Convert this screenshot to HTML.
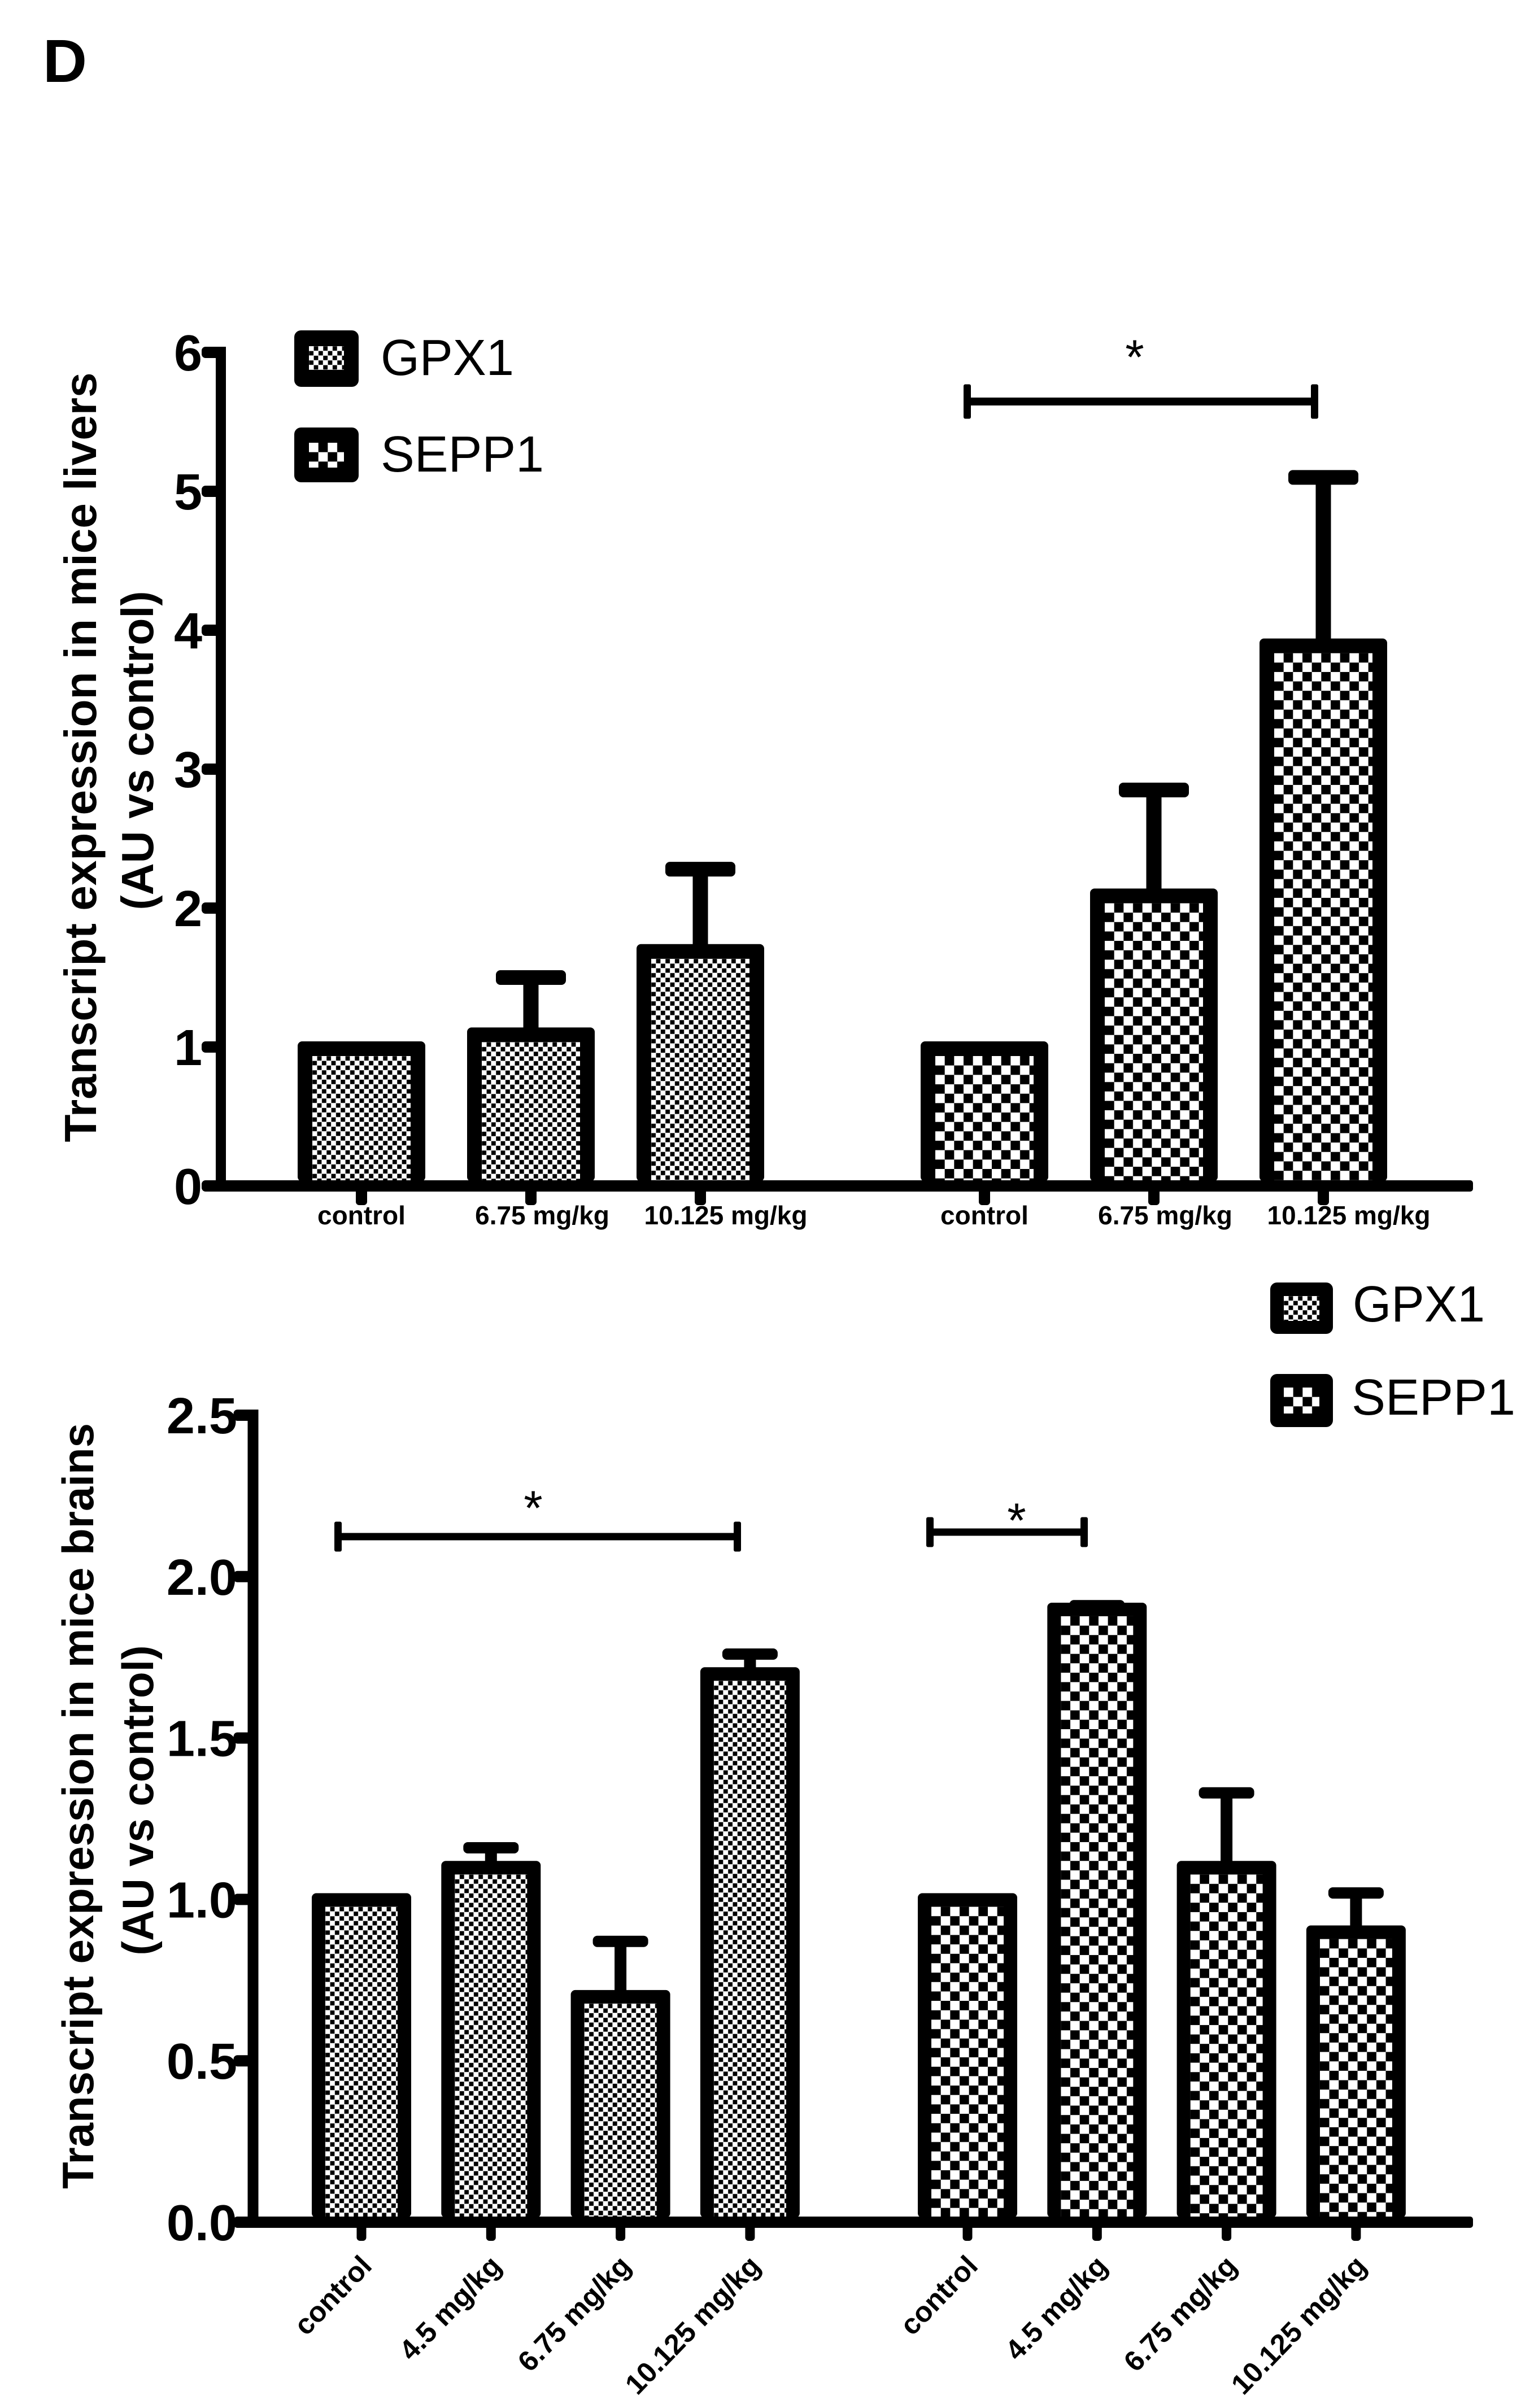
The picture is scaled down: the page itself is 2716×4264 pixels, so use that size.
<!DOCTYPE html>
<html lang="en">
<head>
<meta charset="utf-8">
<title>Transcript expression in mice livers and brains</title>
<style>
html,body{margin:0;padding:0;background:#fff}
svg{display:block}
text{font-family:"Liberation Sans",Arial,sans-serif;fill:#000}
</style>
</head>
<body>
<svg id="figure" xmlns="http://www.w3.org/2000/svg" width="2716" height="4264" viewBox="0 0 2716 4264">
  <defs>
    <pattern id="fine" patternUnits="userSpaceOnUse" width="16.67" height="16.67">
      <rect width="16.67" height="16.67" fill="#fff"/>
      <rect x="8.58" y="0.25" width="7.8" height="7.8" fill="#000"/>
      <rect x="0.25" y="8.58" width="7.8" height="7.8" fill="#000"/>
    </pattern>
    <pattern id="coarse" patternUnits="userSpaceOnUse" width="33.33" height="33.33">
      <rect width="33.33" height="33.33" fill="#fff"/>
      <rect x="16.67" width="16.66" height="16.67" fill="#000"/>
      <rect y="16.67" width="16.67" height="16.66" fill="#000"/>
    </pattern>
  </defs>
  <text x="76" y="145" font-size="108" font-weight="700">D</text>

  <g>
    <text transform="translate(170,1341) rotate(-90)" text-anchor="middle" font-size="80" font-weight="700" textLength="1363" lengthAdjust="spacingAndGlyphs">Transcript expression in mice livers</text>
    <text transform="translate(271,1329) rotate(-90)" text-anchor="middle" font-size="80" font-weight="700" textLength="565" lengthAdjust="spacingAndGlyphs">(AU vs control)</text>
  </g>
  <g>
    <text transform="translate(165,3198) rotate(-90)" text-anchor="middle" font-size="78" font-weight="700" textLength="1356" lengthAdjust="spacingAndGlyphs">Transcript expression in mice brains</text>
    <text transform="translate(271,3188) rotate(-90)" text-anchor="middle" font-size="78" font-weight="700" textLength="549" lengthAdjust="spacingAndGlyphs">(AU vs control)</text>
  </g>
  <g id="liver-chart"></g>
  <g id="brain-chart"></g>
  <g id="annotations"></g>
</svg>
<script>
// ---- Liver chart data ----
const liverCategories = ['control', '6.75 mg/kg', '10.125 mg/kg'];
const liverGpx1 = [1, 1.1, 1.7];
const liverGpx1Err = [null, 1.5, 2.28];
const liverSepp1 = [1, 2.1, 3.9];
const liverSepp1Err = [null, 2.85, 5.1];
const liverTicks = [0, 1, 2, 3, 4, 5, 6];
const liverTickLabels = ['0', '1', '2', '3', '4', '5', '6'];

// ---- Brain chart data ----
const brainCategories = ['control', '4.5 mg/kg', '6.75 mg/kg', '10.125 mg/kg'];
const brainGpx1 = [1, 1.1, 0.7, 1.7];
const brainGpx1Err = [null, 1.16, 0.87, 1.76];
const brainSepp1 = [1, 1.9, 1.1, 0.9];
const brainSepp1Err = [null, 1.91, 1.33, 1.02];
const brainTicks = [0, 0.5, 1, 1.5, 2, 2.5];
const brainTickLabels = ['0.0', '0.5', '1.0', '1.5', '2.0', '2.5'];

const NS = 'http://www.w3.org/2000/svg';
function mk(parent, tag, attrs, txt) {
  const el = document.createElementNS(NS, tag);
  for (const k in attrs) el.setAttribute(k, attrs[k]);
  if (txt !== undefined) el.textContent = txt;
  parent.appendChild(el);
  return el;
}
function slug(s) { return s.replace(/[^a-z0-9]+/gi, '-').toLowerCase(); }

function drawChart(rootId, cfg) {
  const root = document.getElementById(rootId);
  const y = v => cfg.y0 - v * cfg.unit;
  const xOf = (group, i) => cfg.groupStart[group] + i * cfg.step;
  const axisTop = y(0) - cfg.axisW / 2;

  // bars and error bars
  cfg.series.forEach((s, g) => {
    s.values.forEach((v, i) => {
      const cx = xOf(g, i);
      const top = y(v) - cfg.topOff;
      const barGroup = mk(root, 'g', {});
      
      
      if (s.err[i] !== null) {
        const stem = mk(barGroup, 'rect', {x: cx - cfg.stemW / 2, y: y(s.err[i]), width: cfg.stemW, height: top - y(s.err[i]) + 4, fill: '#000'});
        
        
        const cap = mk(barGroup, 'rect', {x: cx - cfg.capW / 2, y: y(s.err[i]) - cfg.capH / 2, width: cfg.capW, height: cfg.capH, rx: 8, fill: '#000'});
        
        
      }
      const outer = mk(barGroup, 'rect', {x: cx - cfg.barW / 2, y: top, width: cfg.barW, height: axisTop - top + 2, rx: 8, fill: '#000'});
      
      
      const inner = mk(barGroup, 'rect', {
        x: 0, y: 0,
        width: cfg.barW - 2 * cfg.border,
        height: Math.max(0, axisTop - top - cfg.border),
        fill: 'url(#' + s.pattern + ')',
        transform: 'translate(' + (cx - cfg.barW / 2 + cfg.border) + ',' + (top + cfg.border) + ')'
      });
      
      
    });
  });

  // y axis
  const yAxis = mk(root, 'g', {});
  
  
  const topTick = cfg.ticks[cfg.ticks.length - 1];
  const yLine = mk(yAxis, 'rect', {x: cfg.axisX - cfg.axisLineW / 2, y: y(topTick) - 10, width: cfg.axisLineW, height: y(0) - y(topTick) + 10, fill: '#000'});
  
  
  cfg.ticks.forEach((t, i) => {
    const tick = mk(yAxis, 'rect', {x: cfg.axisX - cfg.axisLineW / 2 - cfg.tickLen, y: y(t) - 10, width: cfg.tickLen + cfg.axisLineW / 2, height: 20, rx: 7, fill: '#000'});
    
    
    const lab = mk(yAxis, 'text', {x: cfg.labelRight, y: y(t) + 32, 'text-anchor': 'end', 'font-size': 90, 'font-weight': 700}, cfg.tickLabels[i]);
    
    
  });

  // x axis
  const xAxis = mk(root, 'g', {});
  
  
  const xLine = mk(xAxis, 'rect', {x: cfg.axisStart, y: axisTop, width: 2608 - cfg.axisStart, height: cfg.axisW, rx: 5, fill: '#000'});
  
  
  cfg.series.forEach((s, g) => {
    cfg.categories.forEach((c, i) => {
      const cx = xOf(g, i);
      const tick = mk(xAxis, 'rect', {x: cx - cfg.xTickW / 2, y: y(0), width: cfg.xTickW, height: cfg.xTickLen, rx: 6, fill: '#000'});
      
      
      const lab = cfg.drawLabel(xAxis, c, cx, g);
      
      
    });
  });
}

const labelShift = {'control': 0, '6.75 mg/kg': 20, '10.125 mg/kg': 45};

drawChart('liver-chart', {
  y0: 2100, unit: 246, topOff: 10, axisW: 20,
  axisX: 391, axisLineW: 18, tickLen: 25, labelRight: 358, axisStart: 361,
  categories: liverCategories, ticks: liverTicks, tickLabels: liverTickLabels,
  groupStart: [640, 1743], step: 300,
  barW: 226, border: 26, stemW: 27, capW: 124, capH: 26,
  xTickW: 20, xTickLen: 34,
  series: [
    {name: 'gpx1', values: liverGpx1, err: liverGpx1Err, pattern: 'fine'},
    {name: 'sepp1', values: liverSepp1, err: liverSepp1Err, pattern: 'coarse'}
  ],
  drawLabel: (p, c, cx) => mk(p, 'text', {x: cx + labelShift[c], y: 2168, 'text-anchor': 'middle', 'font-size': 46, 'font-weight': 700}, c)
});

drawChart('brain-chart', {
  y0: 3935, unit: 571.6, topOff: 11, axisW: 20,
  axisX: 448, axisLineW: 19, tickLen: 25, labelRight: 420, axisStart: 416,
  categories: brainCategories, ticks: brainTicks, tickLabels: brainTickLabels,
  groupStart: [640, 1713], step: 229.3,
  barW: 176, border: 24, stemW: 21, capW: 98, capH: 20,
  xTickW: 17, xTickLen: 33,
  series: [
    {name: 'gpx1', values: brainGpx1, err: brainGpx1Err, pattern: 'fine'},
    {name: 'sepp1', values: brainSepp1, err: brainSepp1Err, pattern: 'coarse'}
  ],
  drawLabel: (p, c, cx) => mk(p, 'text', {transform: 'translate(' + (cx + 21) + ',4015) rotate(-46)', 'text-anchor': 'end', 'font-size': 50.5, 'font-weight': 700}, c)
});

// ---- Legends and significance brackets ----
const ann = document.getElementById('annotations');
function legendEntry(x, y, w, h, ix, iy, iw, ih, pattern, label, tx, tBase, tLen, size) {
  const g = mk(ann, 'g', {});
  
  
  const box = mk(g, 'rect', {x: x, y: y, width: w, height: h, rx: 12, fill: '#000'});
  
  
  const fill = mk(g, 'rect', {x: 0, y: 0, width: iw, height: ih, fill: 'url(#' + pattern + ')', transform: 'translate(' + ix + ',' + iy + ')'});
  
  
  const t = mk(g, 'text', {x: tx, y: tBase, 'font-size': size, textLength: tLen, lengthAdjust: 'spacingAndGlyphs'}, label);
  
  
}
legendEntry(521, 585, 114, 100, 547, 613, 62, 42, 'fine', 'GPX1', 674, 664, 236, 90);
legendEntry(521, 757, 114, 97, 547, 784, 62, 44, 'coarse', 'SEPP1', 674, 835, 289, 90);
legendEntry(2249, 2271, 111, 91, 2273, 2295, 63, 44, 'fine', 'GPX1', 2395, 2340, 234, 90);
legendEntry(2249, 2433, 111, 94, 2273, 2457, 63, 46, 'coarse', 'SEPP1', 2393, 2505, 290, 90);

function bracket(x1, x2, y, capH, lw, capW, starX, starY) {
  const g = mk(ann, 'g', {});
  
  
  const line = mk(g, 'rect', {x: x1, y: y - lw / 2, width: x2 - x1, height: lw, fill: '#000'});
  
  
  [x1, x2 - capW].forEach(cx => {
    const c = mk(g, 'rect', {x: cx, y: y - capH / 2, width: capW, height: capH, rx: 3, fill: '#000'});
    
    
  });
  const s = mk(g, 'text', {x: starX, y: starY + 50, 'text-anchor': 'middle', 'font-size': 86}, '*');
  
  
}
bracket(1706, 2334, 711, 61, 14, 13, 2009, 612);
bracket(592, 1312, 2721, 53, 13, 13, 944, 2650);
bracket(1640, 1926, 2713, 53, 13, 13, 1800, 2672);
</script>
</body>
</html>
